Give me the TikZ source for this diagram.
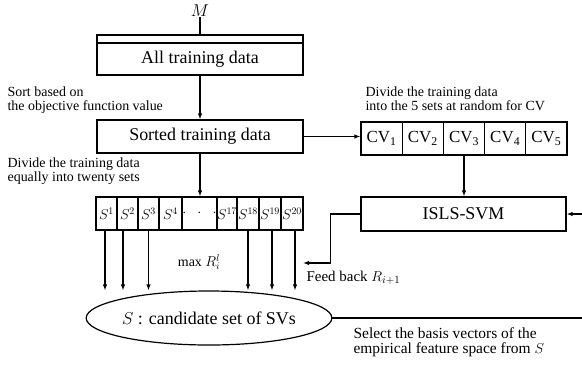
\documentclass[tikz,border=0pt]{standalone}
\usepackage{fontspec}
\setmainfont{Liberation Serif}
\usetikzlibrary{arrows.meta,shapes.geometric}
\begin{document}
\begin{tikzpicture}[x=1bp,y=-1bp,
  line width=1.2bp,
  box/.style={draw, rectangle, inner sep=0pt, font=\fontsize{18}{20}\selectfont},
  cell/.style={draw, rectangle, inner sep=0pt, minimum height=33bp, font=\fontsize{14}{14}\selectfont},
  cvcell/.style={draw, rectangle, inner sep=0pt, minimum height=33bp, minimum width=41.2bp, font=\fontsize{17}{17}\selectfont},
  note/.style={align=left, inner sep=0pt, anchor=west, font=\fontsize{14}{14}\selectfont},
  arr/.style={-{Latex[length=6bp,width=4.5bp]}},
]
\useasboundingbox (0,0) rectangle (582,364);

% top
\node[font=\fontsize{18}{18}\selectfont, inner sep=0pt] (M) at (200,11) {$M$};
\node[box, minimum width=206bp, minimum height=8bp] (band) at (200,39) {};
\node[box, minimum width=206bp, minimum height=32bp] (all) at (200,59) {All training data};
\draw (M.south) -- (band.north);

\node[box, minimum width=206bp, minimum height=33bp] (sorted) at (200,136.5) {Sorted training data};
\draw[arr] (all.south) -- (sorted.north);

% CV cells
\node[cvcell] (cv1) at (381.6,138.5) {CV\textsubscript{1}};
\node[cvcell] (cv2) at (422.8,138.5) {CV\textsubscript{2}};
\node[cvcell] (cv3) at (464.0,138.5) {CV\textsubscript{3}};
\node[cvcell] (cv4) at (505.2,138.5) {CV\textsubscript{4}};
\node[cvcell] (cv5) at (546.4,138.5) {CV\textsubscript{5}};
\draw[arr] (sorted.east) -- (sorted.east -| cv1.west);

% ISLS-SVM
\node[box, minimum width=205bp, minimum height=34bp] (isls) at (463.5,214) {ISLS-SVM};
\draw[arr] (cv3.south) -- (cv3.south |- isls.north);

% S cells
\node[cell, minimum width=21bp] (s1) at (106.5,213.5) {$S^{1}$};
\node[cell, minimum width=21bp] (s2) at (127.5,213.5) {$S^{2}$};
\node[cell, minimum width=21bp] (s3) at (148.5,213.5) {$S^{3}$};
\node[cell, minimum width=23bp] (s4) at (170.5,213.5) {$S^{4}$};
\node[cell, minimum width=35bp] (dots) at (199.5,213.5) {$\cdot\;\;\cdot\;\;\cdot$};
\node[cell, minimum width=20bp] (s17) at (227,213.5) {$S^{17}$};
\node[cell, minimum width=22bp] (s18) at (248,213.5) {$S^{18}$};
\node[cell, minimum width=22bp] (s19) at (270,213.5) {$S^{19}$};
\node[cell, minimum width=22bp] (s20) at (292,213.5) {$S^{20}$};
\draw[arr] (sorted.south) -- (sorted.south |- dots.north);

% candidate set
\node[draw, ellipse, minimum width=218bp, minimum height=54bp, inner sep=0pt,
      font=\fontsize{18}{18}\selectfont] (cand) at (209,318) {$S$ : candidate set of SVs};

\draw[arr] ([xshift=-1.5bp]s1.south) -- ([xshift=-1.5bp]s1.south |- cand.north);
\draw[arr] ([xshift=-4.5bp]s2.south) -- ([xshift=-4.5bp]s2.south |- cand.north);
\draw[arr] (s3.south) -- (s3.south |- cand.north);
\draw[arr] (s18.south) -- (s18.south |- cand.north);
\draw[arr] ([xshift=2bp]s19.south) -- ([xshift=2bp]s19.south |- cand.north);
\draw[arr] ([xshift=3bp]s20.south) -- ([xshift=3bp]s20.south |- cand.north);

\node[font=\fontsize{14}{14}\selectfont, inner sep=0pt] (max) at (199,262) {max $R_i^{l}$};

% feedback
\coordinate (fbend) at (303,263);
\draw[arr] (isls.west) -- ++(-30,0) |- (fbend);
\node[note, font=\fontsize{15}{15}\selectfont] (fb) at (306,278) {Feed back $R_{i+1}$};

% right edge connectors
\coordinate (rin) at (582,214);
\draw[arr] (rin) -- (isls.east);
\coordinate (rout) at (582,318);
\draw (cand.east) -- (rout);

% notes
\node[note] (n1) at (7,100) {Sort based on\\the objective function value};
\node[note] (n2) at (7,171.5) {Divide the training data\\equally into twenty sets};
\node[note] (n3) at (365,99) {Divide the training data\\into the 5 sets at random for CV};
\node[note, font=\fontsize{15.5}{15}\selectfont] (n4) at (353,342.5) {Select the basis vectors of the\\empirical feature space from $S$};
\end{tikzpicture}
\end{document}
